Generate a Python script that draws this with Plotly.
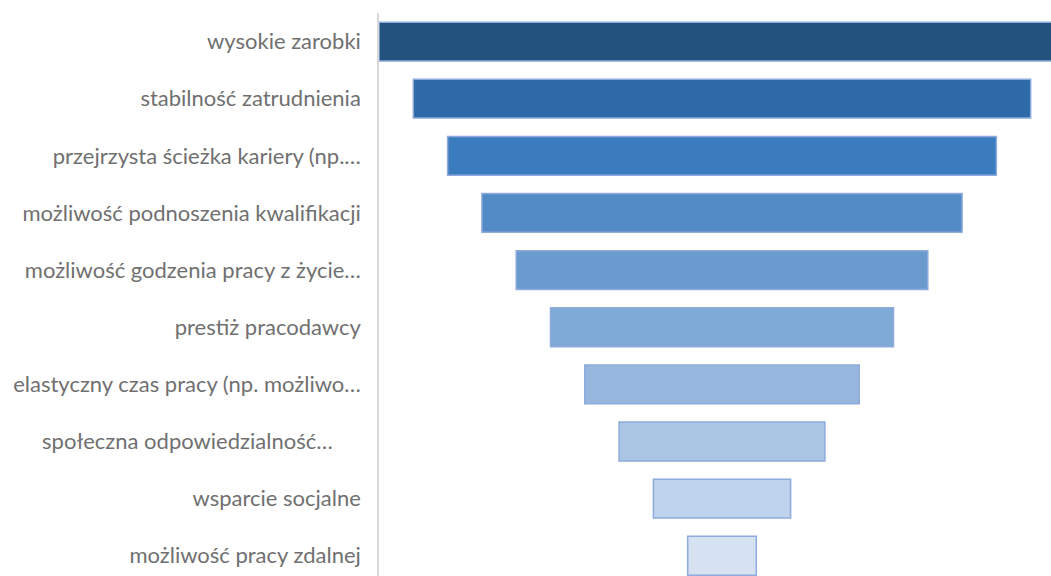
import plotly.graph_objects as go

# Funnel data: category labels (as truncated in the source) and values
categories = [
    "wysokie zarobki",
    "stabilność zatrudnienia",
    "przejrzysta ścieżka kariery (np.…",
    "możliwość podnoszenia kwalifikacji",
    "możliwość godzenia pracy z życie…",
    "prestiż pracodawcy",
    "elastyczny czas pracy (np. możliwo…",
    "społeczna odpowiedzialność…\u00a0\u00a0\u00a0\u00a0\u00a0",
    "wsparcie socjalne",
    "możliwość pracy zdalnej",
]
values = [10, 9, 8, 7, 6, 5, 4, 3, 2, 1]

bar_colors = [
    "#23527f", "#2d6aa7", "#3a7cbe", "#538bc6", "#6a9bcf",
    "#7fa9d6", "#96b7de", "#abc5e5", "#c0d3ec", "#d6e1f2",
]

fig = go.Figure()

fig.add_trace(go.Funnel(
    y=categories,
    x=values,
    orientation="h",
    textinfo="none",
    hoverinfo="y+x",
    marker=dict(color=bar_colors, line=dict(color="#8faadc", width=1.5)),
    connector=dict(visible=False),
    width=0.68,
))

fig.update_layout(
    width=1051,
    height=576,
    margin=dict(l=379, r=0, t=13, b=0),
    paper_bgcolor="white",
    plot_bgcolor="white",
    showlegend=False,
    font=dict(family="Lato, Open Sans, sans-serif", size=22, color="#707070"),
    xaxis=dict(
        range=[-5.0, 4.796],
        visible=False,
        showgrid=False,
        zeroline=False,
        fixedrange=True,
    ),
    yaxis=dict(
        range=[9.355, -0.5],
        showline=True,
        linecolor="#d9d9d9",
        linewidth=1.5,
        showgrid=False,
        ticks="",
        ticklabelstandoff=12,
        tickfont=dict(size=22, color="#707070"),
        fixedrange=True,
    ),
)

# drop the default 8px page margin so the figure fills the window
fig.write_html(
    "out.html",
    config={"displayModeBar": False},
    post_script="document.body.style.margin='0';document.body.style.overflow='hidden';",
)
